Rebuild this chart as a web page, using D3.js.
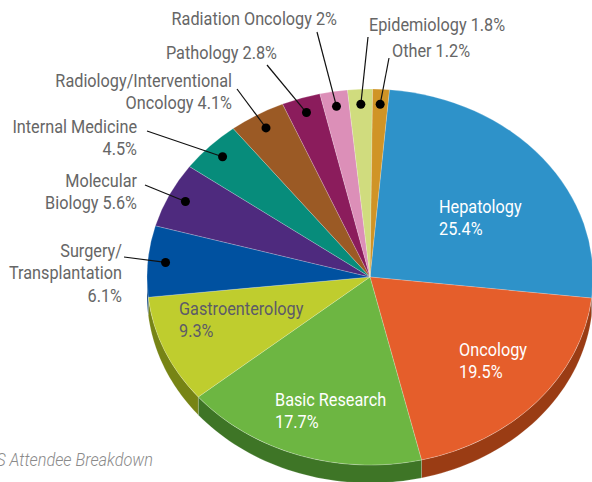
<!DOCTYPE html>
<html>
<head>
<meta charset="utf-8">
<script src="https://cdn.jsdelivr.net/npm/d3@7"></script>
<style>
  body { margin: 0; background: #fff; }
  svg { display: block; }
  text { font-family: Roboto, "Liberation Sans", sans-serif; }
</style>
</head>
<body>
<div id="chart"></div>
<script>
// attendee share by specialty (%), clockwise from the top
var categories = ["Hepatology", "Oncology", "Basic Research", "Gastroenterology",
  "Surgery/Transplantation", "Molecular Biology", "Internal Medicine",
  "Radiology/Interventional Oncology", "Pathology", "Radiation Oncology",
  "Epidemiology", "Other"];
var shares = [25.4, 19.5, 17.7, 9.3, 6.1, 5.6, 4.5, 4.1, 2.8, 2, 1.8, 1.2];
var topColors = ["#2e92c9", "#e55e2b", "#6db642", "#bfcd2e", "#0051a0", "#4e2a7e",
  "#078c7b", "#9b5a25", "#8b1c5c", "#dc8fb8", "#d0dc7e", "#d09426"];
var sideColors = ["#1d6a96", "#9a3c14", "#3e7526", "#778415", "#003a7a", "#341a57",
  "#05584d", "#6a3c18", "#5e123e", "#9a6381", "#929a58", "#91661a"];
// label text, {v} is replaced by the share
var labelLines = [
  ["Hepatology", "{v}"], ["Oncology", "{v}"], ["Basic Research", "{v}"], ["Gastroenterology", "{v}"],
  ["Surgery/", "Transplantation", "{v}"], ["Molecular", "Biology {v}"], ["Internal Medicine", "{v}"],
  ["Radiology/Interventional", "Oncology {v}"], ["Pathology {v}"], ["Radiation Oncology {v}"],
  ["Epidemiology {v}"], ["Other {v}"]
];
var title = "S Attendee Breakdown";

var svgWidth = 592, svgHeight = 482;
var cx = 370, cy = 277, rx = 223, ry = 188, depth = 18;
var startOffset = 5 * Math.PI / 180;
var squeeze = 0.93; // condensed look for the labels

// label layout: inside labels (no leader) and outside labels with a leader line
var labelLayout = [
  { x: 439, y: 213, anchor: "start", fill: "#fff" },
  { x: 459, y: 356, anchor: "start", fill: "#fff" },
  { x: 275, y: 406, anchor: "start", fill: "#fff" },
  { x: 179, y: 315, anchor: "start", fill: "#5c5a68" },
  { x: 122, y: 257, anchor: "end", fill: "#666", lx: 124, ly: 257 },
  { x: 137, y: 187, anchor: "end", fill: "#666", lx: 145, ly: 185 },
  { x: 137, y: 133, anchor: "end", fill: "#666", lx: 147, ly: 131 },
  { x: 232, y: 87, anchor: "end", fill: "#666", lx: 237, ly: 89 },
  { x: 277, y: 59, anchor: "end", fill: "#666", lx: 267, ly: 65 },
  { x: 337, y: 25, anchor: "end", fill: "#666", lx: 317, ly: 32 },
  { x: 369, y: 31, anchor: "start", fill: "#666", lx: 368, ly: 37 },
  { x: 392, y: 57, anchor: "start", fill: "#666", lx: 389, ly: 58 }
];

var data = categories.map(function(c, i) {
  return { name: c, value: shares[i], top: topColors[i], side: sideColors[i], lines: labelLines[i], layout: labelLayout[i] };
});

var svg = d3.select("#chart").append("svg")
  .attr("width", svgWidth)
  .attr("height", svgHeight);

var pie = d3.pie()
  .value(function(d) { return d.value; })
  .sort(null)
  .startAngle(startOffset)
  .endAngle(startOffset + 2 * Math.PI);

var arcs = pie(data);

function pt(a, dy) {
  return [cx + rx * Math.sin(a), cy - ry * Math.cos(a) + (dy || 0)];
}

// side walls (front half only)
var sideGroup = svg.append("g");
arcs.forEach(function(d) {
  var a0 = Math.max(d.startAngle, Math.PI / 2);
  var a1 = Math.min(d.endAngle, 3 * Math.PI / 2);
  if (a0 >= a1) return;
  var n = 40;
  var angles = d3.range(n + 1).map(function(k) { return a0 + (a1 - a0) * k / n; });
  var pts = angles.map(function(a) { return pt(a, 0); })
    .concat(angles.slice().reverse().map(function(a) { return pt(a, depth); }));
  sideGroup.append("path")
    .attr("d", d3.line()(pts) + "Z")
    .attr("fill", d.data.side)
    .attr("stroke", "rgba(255,255,255,0.35)")
    .attr("stroke-width", 0.5);
});

// top faces
var arc = d3.arc().innerRadius(0).outerRadius(rx);
var topGroup = svg.append("g")
  .attr("transform", "translate(" + cx + "," + cy + ") scale(1," + (ry / rx) + ")");

topGroup.selectAll("path")
  .data(arcs)
  .enter()
  .append("path")
  .attr("d", arc)
  .attr("fill", function(d) { return d.data.top; })
  .attr("stroke", "rgba(255,255,255,0.4)")
  .attr("stroke-width", 0.5)
  .attr("vector-effect", "non-scaling-stroke");

// leader lines + dots
arcs.forEach(function(d) {
  var L = d.data.layout;
  if (L.lx === undefined) return;
  var mid = (d.startAngle + d.endAngle) / 2;
  var p = [cx + rx * 0.92 * Math.sin(mid), cy - ry * 0.92 * Math.cos(mid)];
  svg.append("line")
    .attr("x1", L.lx).attr("y1", L.ly)
    .attr("x2", p[0]).attr("y2", p[1])
    .attr("stroke", "#111")
    .attr("stroke-width", 1.2);
  svg.append("circle")
    .attr("cx", p[0]).attr("cy", p[1])
    .attr("r", 4.5)
    .attr("fill", "#000");
});

// labels
arcs.forEach(function(d) {
  var L = d.data.layout;
  var t = svg.append("text")
    .attr("transform", "translate(" + L.x + "," + L.y + ") scale(" + squeeze + ",1)")
    .attr("text-anchor", L.anchor)
    .attr("fill", L.fill)
    .style("font-size", "17.5px");
  d.data.lines.forEach(function(line, k) {
    t.append("tspan")
      .attr("x", 0)
      .attr("dy", k === 0 ? 0 : 22.5)
      .text(line.replace("{v}", d.data.value + "%"));
  });
});

// caption, cut at the left edge as in the source
svg.append("text")
  .attr("transform", "translate(153,466) scale(0.86,1)")
  .attr("text-anchor", "end")
  .attr("fill", "#8a8a8a")
  .style("font-size", "19px")
  .style("font-style", "italic")
  .style("font-weight", 300)
  .text(title);
</script>
</body>
</html>
